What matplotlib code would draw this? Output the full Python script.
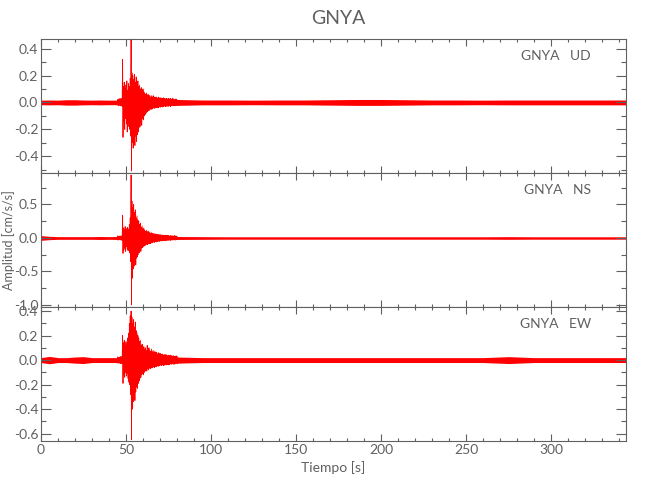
import numpy as np
import matplotlib
matplotlib.use("Agg")
import matplotlib.pyplot as plt
from matplotlib.ticker import MultipleLocator, FormatStrFormatter

# station / components
station = "GNYA"
components = ["UD", "NS", "EW"]

event_start = 45.0
event_step = 0.5

ud_upper = [0.02, 0.025, 0.02, 0.03, 0.02, 0.03,
            0.32,
            0.12, 0.15, 0.10, 0.13, 0.16, 0.09, 0.14, 0.12, 0.18,
            0.47,
            0.22, 0.20, 0.17, 0.21, 0.15, 0.19, 0.14, 0.16,
            0.12, 0.13, 0.10, 0.11, 0.09, 0.10, 0.08, 0.07,
            0.06, 0.07, 0.05, 0.06, 0.05, 0.05, 0.04, 0.05,
            0.04, 0.05, 0.04, 0.04, 0.035, 0.04, 0.03, 0.04, 0.035, 0.03,
            0.035, 0.03, 0.03, 0.035, 0.03, 0.025, 0.03, 0.03, 0.025, 0.03,
            0.025, 0.03, 0.025, 0.025, 0.03, 0.025, 0.02, 0.025, 0.025, 0.02]
ud_lower = [-0.02, -0.025, -0.02, -0.025, -0.02, -0.03,
            -0.26,
            -0.14, -0.20, -0.12, -0.16, -0.22, -0.15, -0.18, -0.20, -0.25,
            -0.51,
            -0.30, -0.34, -0.28, -0.32, -0.25, -0.29, -0.24, -0.22,
            -0.19, -0.18, -0.15, -0.17, -0.12, -0.13, -0.10, -0.09,
            -0.08, -0.07, -0.07, -0.06, -0.06, -0.05, -0.05, -0.05,
            -0.045, -0.04, -0.045, -0.04, -0.035, -0.04, -0.035, -0.04, -0.03, -0.035,
            -0.03, -0.035, -0.03, -0.03, -0.025, -0.03, -0.03, -0.025, -0.03, -0.025,
            -0.025, -0.03, -0.025, -0.02, -0.025, -0.025, -0.02, -0.025, -0.02, -0.02]

ns_upper = [0.03, 0.025, 0.03, 0.025, 0.03, 0.03,
            0.34,
            0.15, 0.12, 0.17, 0.10, 0.14, 0.16, 0.13, 0.20, 0.30,
            0.94,
            0.55, 0.45, 0.50, 0.38, 0.42, 0.30, 0.33, 0.27,
            0.25, 0.20, 0.22, 0.16, 0.18, 0.14, 0.15, 0.12,
            0.10, 0.11, 0.09, 0.10, 0.08, 0.09, 0.07, 0.08,
            0.07, 0.06, 0.07, 0.055, 0.06, 0.05, 0.055, 0.05, 0.045, 0.05,
            0.045, 0.04, 0.045, 0.04, 0.04, 0.035, 0.04, 0.035, 0.04, 0.035,
            0.03, 0.035, 0.03, 0.035, 0.03, 0.03, 0.035, 0.03, 0.03, 0.025]
ns_lower = [-0.03, -0.03, -0.025, -0.03, -0.03, -0.035,
            -0.23,
            -0.18, -0.15, -0.20, -0.13, -0.17, -0.19, -0.15, -0.22, -0.35,
            -1.00,
            -0.60, -0.46, -0.42, -0.35, -0.40, -0.30, -0.28, -0.25,
            -0.22, -0.18, -0.20, -0.15, -0.14, -0.13, -0.12, -0.11,
            -0.10, -0.09, -0.10, -0.085, -0.08, -0.085, -0.07, -0.075,
            -0.065, -0.06, -0.065, -0.055, -0.06, -0.05, -0.05, -0.045, -0.05, -0.045,
            -0.04, -0.045, -0.04, -0.04, -0.035, -0.04, -0.035, -0.035, -0.03, -0.035,
            -0.03, -0.035, -0.03, -0.03, -0.03, -0.025, -0.03, -0.03, -0.025, -0.025]

ew_upper = [0.025, 0.02, 0.025, 0.02, 0.03, 0.025,
            0.20,
            0.14, 0.16, 0.12, 0.15, 0.13, 0.18, 0.22, 0.30, 0.36,
            0.40,
            0.35, 0.30, 0.33, 0.27, 0.31, 0.24, 0.22, 0.20,
            0.18, 0.15, 0.16, 0.12, 0.13, 0.10, 0.11, 0.09,
            0.10, 0.08, 0.12, 0.09, 0.10, 0.08, 0.07, 0.09,
            0.07, 0.08, 0.06, 0.07, 0.06, 0.065, 0.05, 0.06, 0.05, 0.055,
            0.05, 0.045, 0.05, 0.04, 0.045, 0.04, 0.045, 0.04, 0.035, 0.04,
            0.035, 0.04, 0.035, 0.035, 0.03, 0.035, 0.03, 0.03, 0.035, 0.03]
ew_lower = [-0.025, -0.02, -0.025, -0.03, -0.025, -0.03,
            -0.19,
            -0.12, -0.14, -0.10, -0.13, -0.11, -0.15, -0.18, -0.20, -0.28,
            -0.65,
            -0.40, -0.34, -0.30, -0.33, -0.26, -0.22, -0.23, -0.19,
            -0.17, -0.15, -0.14, -0.12, -0.11, -0.12, -0.10, -0.09,
            -0.08, -0.09, -0.07, -0.08, -0.065, -0.07, -0.06, -0.065,
            -0.06, -0.055, -0.06, -0.05, -0.055, -0.05, -0.045, -0.05, -0.045, -0.04,
            -0.045, -0.04, -0.04, -0.045, -0.04, -0.035, -0.04, -0.035, -0.035, -0.04,
            -0.035, -0.03, -0.035, -0.03, -0.03, -0.035, -0.03, -0.03, -0.025, -0.03]

# background noise half-width outside the event
noise_t = [0, 5, 10, 15, 20, 25, 30, 35, 40, 45,
           80, 95, 110, 125, 140, 155, 170, 185, 200, 215,
           230, 245, 260, 275, 290, 305, 320, 335, 345]
ud_noise = [0.017, 0.018, 0.017, 0.02, 0.02, 0.018, 0.017, 0.018, 0.017, 0.017,
            0.022, 0.018, 0.018, 0.017, 0.018, 0.018, 0.02, 0.022, 0.022, 0.02,
            0.018, 0.018, 0.017, 0.018, 0.018, 0.018, 0.018, 0.018, 0.018]
ns_noise = [0.035, 0.025, 0.02, 0.02, 0.02, 0.02, 0.02, 0.022, 0.02, 0.022,
            0.022, 0.02, 0.018, 0.018, 0.018, 0.018, 0.018, 0.018, 0.018, 0.018,
            0.018, 0.018, 0.018, 0.02, 0.018, 0.018, 0.018, 0.018, 0.018]
ew_noise = [0.02, 0.03, 0.02, 0.02, 0.025, 0.028, 0.02, 0.02, 0.02, 0.02,
            0.025, 0.02, 0.02, 0.02, 0.02, 0.02, 0.02, 0.02, 0.02, 0.02,
            0.02, 0.02, 0.02, 0.028, 0.02, 0.02, 0.02, 0.02, 0.02]

uppers = [ud_upper, ns_upper, ew_upper]
lowers = [ud_lower, ns_lower, ew_lower]
noises = [ud_noise, ns_noise, ew_noise]
ylims = [(-0.525, 0.472), (-1.03, 0.97), (-0.66, 0.433)]
yticks = [[-0.4, -0.2, 0.0, 0.2, 0.4], [-1.0, -0.5, 0.0, 0.5], [-0.6, -0.4, -0.2, 0.0, 0.2, 0.4]]
yminor = [0.1, 0.25, 0.1]

plt.rcParams["font.family"] = ["Lato", "DejaVu Sans"]
gray = "#606060"

fig = plt.figure(figsize=(6.5, 5), dpi=100)
bottoms = [0.654, 0.386, 0.118]
height = 0.268

for i in range(3):
    ax = fig.add_axes([0.063, bottoms[i], 0.9, height])
    nt = np.array(noise_t, dtype=float)
    nw = np.array(noises[i])
    ax.fill_between(nt, -nw, nw, color="red", lw=0)

    up = np.array(uppers[i])
    lo = np.array(lowers[i])
    t = event_start + event_step * np.arange(len(up))
    # zig-zag between read-off peaks
    tz = np.empty(2 * len(up))
    yz = np.empty(2 * len(up))
    tz[0::2] = t
    tz[1::2] = t + event_step / 2
    yz[0::2] = up
    yz[1::2] = lo
    ax.plot(tz, yz, color="red", lw=0.6, clip_on=False)

    ax.set_xlim(0, 344)
    ax.set_ylim(*ylims[i])
    ax.set_yticks(yticks[i])
    ax.yaxis.set_major_formatter(FormatStrFormatter("%.1f"))
    ax.yaxis.set_minor_locator(MultipleLocator(yminor[i]))
    ax.xaxis.set_major_locator(MultipleLocator(50))
    ax.xaxis.set_minor_locator(MultipleLocator(10))
    ax.tick_params(which="both", direction="in", top=True, right=True,
                   color=gray, labelcolor=gray, labelsize=10, width=0.8, pad=2)
    ax.tick_params(axis="y", which="major", length=7)
    ax.tick_params(axis="y", which="minor", length=3.5)
    ax.tick_params(axis="x", which="major", length=5)
    ax.tick_params(axis="x", which="minor", length=2.5)
    for s in ax.spines.values():
        s.set_color(gray)
        s.set_linewidth(0.8)
    if i < 2:
        ax.tick_params(axis="x", labelbottom=False)
    else:
        ax.set_xlabel("Tiempo [s]", color=gray, fontsize=10, labelpad=4)
    ax.text(0.94, 0.83, station + "   " + components[i], transform=ax.transAxes,
            ha="right", va="bottom", color=gray, fontsize=10)

fig.text(0.013, 0.52, "Amplitud [cm/s/s]", rotation=90, ha="center", va="center",
         color=gray, fontsize=9)
fig.text(0.52, 0.963, station, ha="center", va="center", color=gray, fontsize=14)

fig.savefig("out.png", dpi=100)
